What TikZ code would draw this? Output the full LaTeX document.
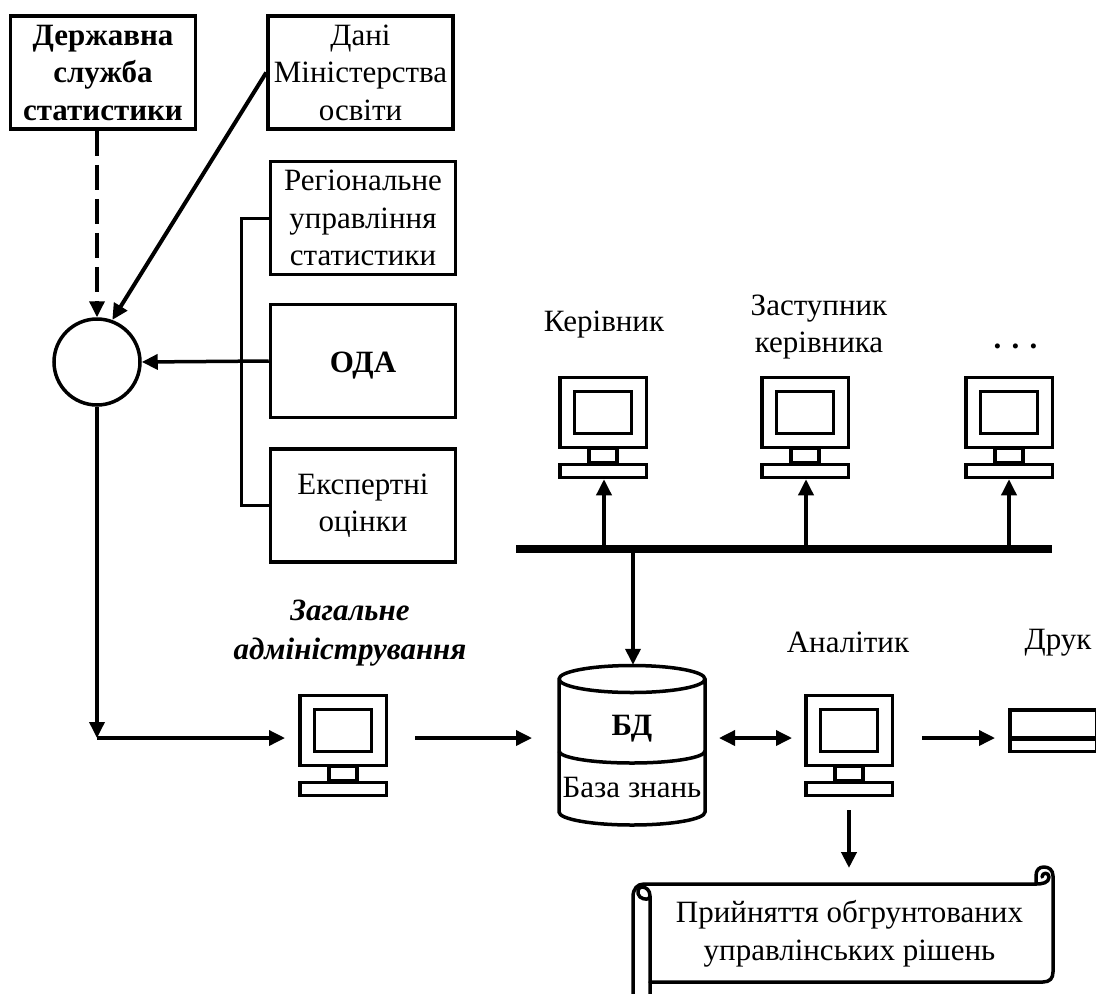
\documentclass[tikz,border=0pt]{standalone}
\usepackage{fontspec}
\setmainfont{Liberation Serif}
\usetikzlibrary{arrows.meta}
\newcommand{\mainsize}{\fontsize{31}{37.5}\selectfont}
\tikzset{
  x=1pt,y=-1pt,
  box/.style={draw,line width=3.5pt,inner sep=0pt,align=center,font=\mainsize,minimum width=185pt,minimum height=113pt},
  txt/.style={inner sep=0pt,align=center,font=\mainsize},
  bigtip/.tip={Triangle[length=16pt,width=15pt]},
  con/.style={line width=3.5pt,-bigtip},
  thin con/.style={line width=3pt},
  part/.style={draw,line width=3.5pt,inner sep=0pt},
  pics/computer/.style={code={
    \node[part,minimum width=86.5pt,minimum height=70pt] (-mon) at (0,0) {};
    \node[part,minimum width=57pt,minimum height=42pt] (-scr) at (0,0) {};
    \node[part,minimum width=28pt,minimum height=14pt] (-neck) at (0,43) {};
    \node[part,minimum width=86.5pt,minimum height=13pt] (-key) at (0,58.5) {};
  }}
}
\begin{document}
\begin{tikzpicture}
\useasboundingbox (0,0) rectangle (1096,994);
% top-left boxes
\node[box,font=\mainsize\bfseries] (ds) at (103,72.5) {Державна\\служба\\статистики};
\node[box] (mo) at (360.5,72.5) {Дані\\Міністерства\\освіти};
\node[box] (ru) at (363,218) {Регіональне\\управління\\статистики};
\node[box,font=\mainsize\bfseries] (oda) at (363,361) {\smash{\raisebox{-11pt}{ОДА}}};
\node[box] (ex) at (363,505.5) {Експертні\\оцінки};
\node[draw,circle,line width=3.5pt,minimum size=86pt,inner sep=0pt] (c) at (97,362) {};
% connectors to the circle
\draw[con,dash pattern=on 25pt off 9pt] (ds.south -| c) -- (c.north);
\draw[con,line width=4pt] (mo.west) -- (c.70);
\draw[con] (oda.west) -- (c.east);
\coordinate (bt) at (241,218);
\coordinate (bb) at (241,505);
\draw[thin con] (ru.west |- bt) -- (bt) -- (bb) -- (ex.west |- bb);
% computers
\pic (k) at (603,412.5) {computer};
\pic (z) at (805,412.5) {computer};
\pic (d) at (1009,412.5) {computer};
\pic (a) at (343,730.5) {computer};
\pic (n) at (849,730.5) {computer};
\node[txt] (lk) at (604,325) {Керівник};
\node[txt] (lz) at (819,327) {Заступник\\керівника};
\node[txt,anchor=base,font=\mainsize\bfseries] (ld) at (1015.5,348) {. . .};
\node[txt,font=\fontsize{31}{39}\selectfont\bfseries\itshape] (la) at (350,633) {Загальне\\адміністрування};
\node[txt] (ln) at (848,642) {Аналітик};
\node[txt] (lp) at (1058,643) {Друк};
% bus
\coordinate (b1) at (516,549);
\coordinate (b2) at (1052,549);
\draw[line width=8pt] (b1) -- (b2);
\coordinate (bk) at (604,549);
\coordinate (bz) at (806,549);
\coordinate (bd) at (1009,549);
\coordinate (bc) at (633,549);
\draw[con] (bk) -- (bk |- k-key.south);
\draw[con] (bz) -- (bz |- z-key.south);
\draw[con] (bd) -- (bd |- d-key.south);
% database
\node[inner sep=0pt,minimum width=146pt,minimum height=160pt] (db) at (632,745) {};
\draw[line width=3.5pt] (559,679) arc[start angle=180,end angle=0,x radius=73,y radius=13.5]
  arc[start angle=0,end angle=-180,x radius=73,y radius=13.5] -- (559,812)
  arc[start angle=180,end angle=0,x radius=73,y radius=13] -- (705,679);
\draw[line width=3.5pt] (559,751) arc[start angle=180,end angle=0,x radius=73,y radius=12];
\node[txt,font=\mainsize\bfseries] (bd1) at (632,729) {БД};
\node[txt] (bd2) at (632,787) {База знань};
\draw[con] (bc) -- (db.north -| bc);
% bottom flow
\coordinate (j) at (97,738);
\coordinate (j2) at (285,738);
\draw[con] (c.south) -- (j);
\draw[con] (j) -- (j2);
\coordinate (f1) at (415,738);
\coordinate (f2) at (532,738);
\draw[con] (f1) -- (f2);
\coordinate (f3) at (719,738);
\coordinate (f4) at (792,738);
\draw[line width=3.5pt,bigtip-bigtip] (f3) -- (f4);
\coordinate (f5) at (922,738);
\coordinate (f6) at (995,738);
\draw[con] (f5) -- (f6);
% printer
\node[part,minimum width=86.5pt,minimum height=41.5pt] (p) at (1053,730.5) {};
\draw[line width=5pt] (p.west) ++(0,7.5) coordinate (pl) -- (pl -| p.east);
% scroll
\coordinate (s0) at (849,810);
\coordinate (s1) at (849,868);
\draw[con,line width=4pt] (s0) -- (s1);
\node[txt,font=\fontsize{31}{38}\selectfont] (sc) at (849.5,934) {Прийняття обгрунтованих\\управлінських рішень};
\begin{scope}[line width=3.5pt,line cap=round,line join=round]
\clip (620,850) rectangle (1096,994);
\draw (633,996) -- (633,897) .. controls (633,889) and (637,884) .. (644,884) -- (1036,884);
\draw (650,996) -- (650,896) .. controls (650,890) and (646,887) .. (642,887) .. controls (638,887) and (636,893) .. (640,897) .. controls (644,900) and (650,900) .. (650,896);
\draw (650,982) -- (1043,982) .. controls (1050,982) and (1053,978) .. (1053,972) -- (1053,876)
  .. controls (1053,870) and (1049,867) .. (1044,867) .. controls (1039,867) and (1036,870) .. (1036,876) -- (1036,884);
\draw (1036,884) .. controls (1042,884) and (1049,883) .. (1049,877) .. controls (1049,872) and (1042,872) .. (1042,877);
\end{scope}
\end{tikzpicture}
\end{document}
